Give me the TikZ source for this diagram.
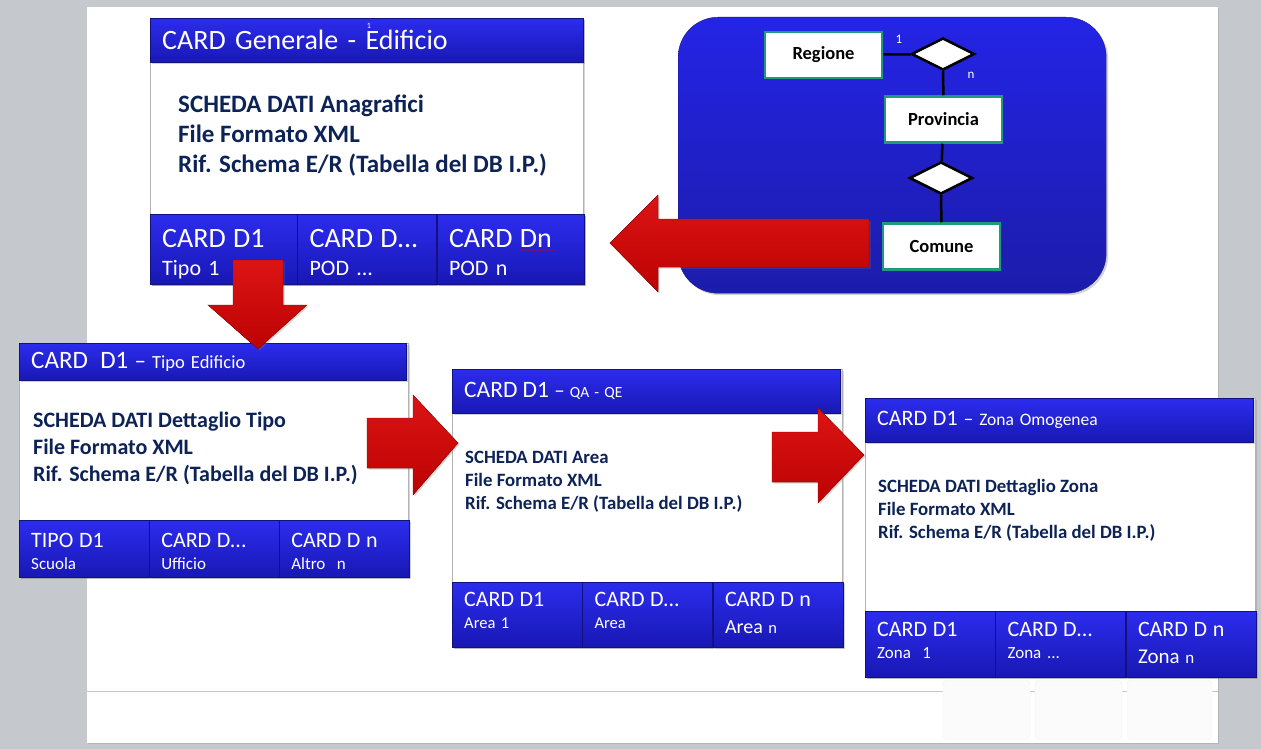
\documentclass[tikz,border=0pt]{standalone}
\usepackage{fontspec}
\setmainfont{Carlito}
\usetikzlibrary{positioning,shadows,shapes.geometric,decorations.pathmorphing}

\definecolor{deskgray}{HTML}{C5C8CC}
\definecolor{bluetop}{HTML}{2C2CEE}
\definecolor{bluebot}{HTML}{1818B4}
\definecolor{blueedge}{HTML}{12127E}
\definecolor{paneltop}{HTML}{2424E6}
\definecolor{panelbot}{HTML}{1C1CAA}
\definecolor{navy}{HTML}{0D2356}
\definecolor{erteal}{HTML}{1F9A7A}
\definecolor{arrowtop}{HTML}{DC1414}
\definecolor{arrowbot}{HTML}{BC0202}

\begin{document}
\begin{tikzpicture}[x=1pt, y=-1pt,
  bluebox/.style={draw=blueedge, top color=bluetop, bottom color=bluebot, text=white,
    drop shadow={shadow xshift=1.5pt, shadow yshift=-1.5pt, opacity=.35}},
  card/.style={draw=black!30, fill=white, inner sep=0pt, anchor=north west,
    drop shadow={shadow xshift=2pt, shadow yshift=-2pt, opacity=.3}},
  head/.style={bluebox, anchor=north west, inner xsep=12pt, inner ysep=0pt, align=left},
  tile/.style={bluebox, inner xsep=12pt, inner ysep=0pt, align=left, text width=#1},
  gentile/.style={tile=120.3pt, minimum height=70pt, text height=20pt, text depth=24pt,
    font=\fontsize{22}{28}\selectfont},
  tipotile/.style={tile=105.7pt, minimum height=57pt, text height=15pt, text depth=18pt,
    font=\fontsize{17}{22}\selectfont},
  areatile/.style={tile=106pt, minimum height=65pt, text height=15pt, text depth=32pt,
    font=\fontsize{16.5}{22}\selectfont},
  zonatile/.style={tile=106pt, minimum height=66pt, text height=15pt, text depth=31pt,
    font=\fontsize{17}{22}\selectfont},
  sheet/.style={anchor=north west, inner sep=0pt, align=left, text=navy},
  entity/.style={draw=erteal, line width=2.5pt, fill=white, minimum width=117pt,
    minimum height=46pt, font=\bfseries\fontsize{18.5}{18.5}\selectfont},
  relation/.style={diamond, draw=black, line width=2.5pt, fill=white,
    minimum width=63pt, minimum height=32pt, inner sep=0pt},
  erline/.style={line width=2.5pt, black},
  bigarrow/.style={top color=arrowtop, bottom color=arrowbot, draw=arrowbot!85!black,
    line width=.4pt, drop shadow={shadow xshift=1.5pt, shadow yshift=-1.5pt, opacity=.3}}
]

% desk and page
\useasboundingbox (0,0) rectangle (1261,749);
\fill[deskgray] (0,0) rectangle (1261,749);
\node[fill=white, inner sep=0pt, anchor=north west, minimum width=1131pt, minimum height=736pt,
  drop shadow={shadow xshift=1pt, shadow yshift=-1pt, opacity=.25}] (page) at (87,7) {};
\draw[black!22] (87,691) -- (1218,691);
\foreach \a/\b in {943/1030,1035/1122,1127/1212}
  \draw[black!5, fill=black!1.5, rounded corners=4pt] (\a,680) rectangle (\b,739);

% CARD Generale
\node[card, minimum width=433pt, minimum height=266pt] (gen) at (150,18) {};
\node[head, text width=409pt, minimum height=44pt, font=\fontsize{28}{28}\selectfont]
  (genhead) at (gen.north west) {CARD Generale - Edificio};
\node[white, font=\fontsize{8}{8}\selectfont] (fnote) at (369,26) {1};
\node[sheet, font=\bfseries\fontsize{25}{30}\selectfont] (gentext) at ([shift={(28,76.5)}]gen.north west)
  {SCHEDA DATI Anagrafici\\File Formato XML\\Rif. Schema E/R (Tabella del DB I.P.)};
\node[gentile, tile=123pt, anchor=south west] (gen1) at (gen.south west)
  {{\fontsize{28}{28}\selectfont CARD D1}\\Tipo 1};
\node[gentile, tile=115pt, right=0pt of gen1] (gen2) {{\fontsize{28}{28}\selectfont CARD D...}\\POD ...};
\node[gentile, tile=123pt, right=0pt of gen2] (gen3) {{\fontsize{28}{28}\selectfont CARD Dn}\\POD n};
\draw[red!80!black, decorate, decoration={snake, amplitude=.6pt, segment length=3pt}]
  (520,250) -- (555,250);

% schema E/R
\node[anchor=north west, minimum width=428pt, minimum height=276pt, rounded corners=40pt,
  top color=paneltop, bottom color=panelbot, draw=panelbot!80!black,
  drop shadow={shadow xshift=2pt, shadow yshift=-2pt, opacity=.35}] (panel) at (678,17) {};
\node[entity] (regione) at (823.5,55) {Regione};
\node[relation] (rel1) at (943,54) {};
\node[entity] (provincia) at (943.5,119.5) {Provincia};
\node[relation] (rel2) at (941,178) {};
\node[entity] (comune) at (941.5,246.5) {Comune};
\draw[erline] (regione) -- (rel1);
\draw[erline] (rel1) -- (provincia);
\draw[erline] (provincia) -- (rel2);
\draw[erline] (rel2) -- (comune);
\node[white, font=\fontsize{13}{13}\selectfont] (card1) at (899,39) {1};
\node[white, font=\fontsize{13}{13}\selectfont] (cardn) at (971,75) {n};

% CARD D1 - Tipo Edificio
\node[card, minimum width=389pt, minimum height=234pt] (tipo) at (19,343) {};
\node[head, text width=363pt, minimum height=37pt, font=\fontsize{18.5}{18.5}\selectfont]
  (tipohead) at (tipo.north west)
  {{\fontsize{25}{25}\selectfont CARD\ \ D1} {\fontsize{23}{23}\selectfont –} Tipo Edificio};
\node[sheet, font=\bfseries\fontsize{22}{27}\selectfont] (tipotext) at ([shift={(14,69)}]tipo.north west)
  {SCHEDA DATI Dettaglio Tipo\\File Formato XML\\Rif. Schema E/R (Tabella del DB I.P.)};
\node[tipotile, anchor=south west] (tipo1) at (tipo.south west)
  {{\fontsize{22}{22}\selectfont TIPO D1}\\Scuola};
\node[tipotile, right=0pt of tipo1] (tipo2) {{\fontsize{22}{22}\selectfont CARD D...}\\Ufficio};
\node[tipotile, right=0pt of tipo2] (tipo3) {{\fontsize{22}{22}\selectfont CARD D n}\\Altro\ \ n};

% CARD D1 - QA - QE
\node[card, minimum width=390pt, minimum height=278pt] (area) at (452,369) {};
\node[head, text width=364pt, minimum height=44pt, font=\fontsize{15.5}{15.5}\selectfont]
  (areahead) at (area.north west)
  {{\fontsize{23.5}{23.5}\selectfont CARD D1} {\fontsize{21}{21}\selectfont –} QA - QE};
\node[sheet, font=\bfseries\fontsize{18.8}{23}\selectfont] (areatext) at ([shift={(13,82)}]area.north west)
  {SCHEDA DATI Area\\File Formato XML\\Rif. Schema E/R (Tabella del DB I.P.)};
\node[areatile, anchor=south west] (area1) at (area.south west)
  {{\fontsize{22}{22}\selectfont CARD D1}\\Area 1};
\node[areatile, right=0pt of area1] (area2) {{\fontsize{22}{22}\selectfont CARD D...}\\Area};
\node[areatile, right=0pt of area2] (area3)
  {{\fontsize{22}{22}\selectfont CARD D n}\\[5pt]{\fontsize{20}{20}\selectfont Area} n};

% CARD D1 - Zona Omogenea
\node[card, minimum width=390pt, minimum height=279pt] (zona) at (865,398) {};
\node[head, text width=364pt, minimum height=44pt, font=\fontsize{17.5}{17.5}\selectfont]
  (zonahead) at (zona.north west)
  {{\fontsize{22}{22}\selectfont CARD D1} {\fontsize{20}{20}\selectfont –} Zona Omogenea};
\node[sheet, font=\bfseries\fontsize{18.8}{23}\selectfont] (zonatext) at ([shift={(13,81.5)}]zona.north west)
  {SCHEDA DATI Dettaglio Zona\\File Formato XML\\Rif. Schema E/R (Tabella del DB I.P.)};
\node[zonatile, anchor=south west] (zona1) at (zona.south west)
  {{\fontsize{22}{22}\selectfont CARD D1}\\Zona\ \ 1};
\node[zonatile, right=0pt of zona1] (zona2) {{\fontsize{22}{22}\selectfont CARD D...}\\Zona ...};
\node[zonatile, right=0pt of zona2] (zona3)
  {{\fontsize{22}{22}\selectfont CARD D n}\\[5pt]{\fontsize{21}{21}\selectfont Zona} n};

% frecce
\filldraw[bigarrow] (233,260) -- (283,260) -- (283,305) -- (307,305) -- (258,349)
  -- (208,305) -- (233,305) -- cycle;
\filldraw[bigarrow] (869,219) -- (869,267) -- (658,267) -- (658,292) -- (610,243)
  -- (658,195) -- (658,219) -- cycle;
\filldraw[bigarrow] (367,418) -- (413,418) -- (413,395) -- (458,443) -- (413,495)
  -- (413,468) -- (367,468) -- cycle;
\filldraw[bigarrow] (772,432) -- (818,432) -- (818,408) -- (864,455) -- (818,503)
  -- (818,482) -- (772,482) -- cycle;

\end{tikzpicture}
\end{document}
